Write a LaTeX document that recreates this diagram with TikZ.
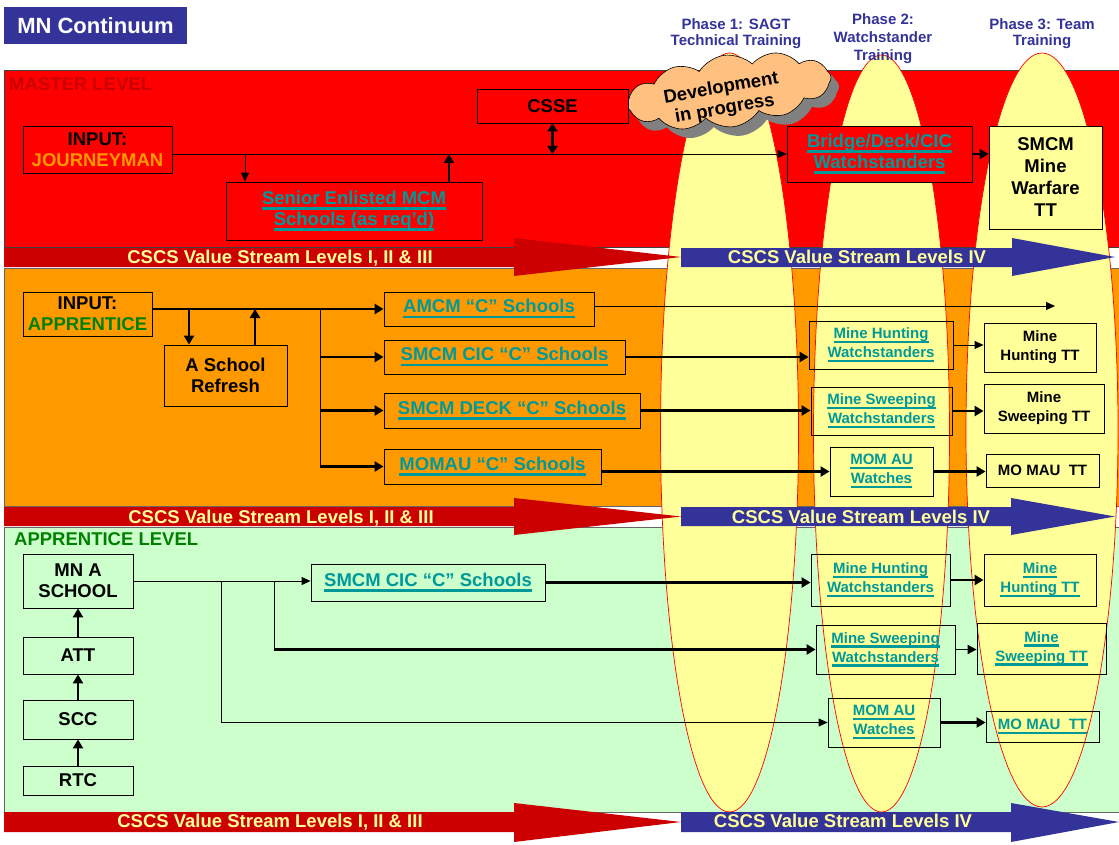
\documentclass[tikz,border=0pt]{standalone}
\usepackage{fontspec}
\setmainfont{Liberation Sans}
\usetikzlibrary{arrows.meta,shapes.symbols}
\definecolor{navy}{HTML}{333399}
\definecolor{tealc}{HTML}{009999}
\definecolor{regred}{HTML}{FF0000}
\definecolor{regorange}{HTML}{FF9900}
\definecolor{reggreen}{HTML}{CCFFCC}
\definecolor{yel}{HTML}{FFFF99}
\definecolor{dred}{HTML}{CC0000}
\definecolor{lvlgreen}{HTML}{008000}
\definecolor{cloudc}{HTML}{FFC080}
\definecolor{shadowc}{HTML}{808080}
\newbox\ulbox
\newcommand\ulx[1]{\setbox\ulbox\hbox{#1}\rlap{\raisebox{-0.3em}{\rule{\wd\ulbox}{0.16em}}}\box\ulbox}
\newcommand\bx[6]{\node[#6, minimum width={(#4-#2)*1pt}, minimum height={(#5-#3)*1pt}] (#1) at ({(#2+#4)/2},{(#3+#5)/2})}
\tikzset{
  bigf/.style={font=\bfseries\fontsize{18.5}{21}\selectfont},
  smallf/.style={font=\bfseries\fontsize{15}{19}\selectfont},
  bxs/.style={draw=black, line width=0.8pt, inner sep=0pt, align=center, bigf},
  sbxs/.style={bxs, smallf},
  tealtext/.style={text=tealc},
  thinarrow/.style={line width=0.9pt, -{Triangle[length=9pt,width=8pt]}},
  thinline/.style={line width=0.9pt},
  thickarrow/.style={line width=2.8pt, -{Triangle[length=9pt,width=10pt]}},
  bandtext/.style={bigf, text=yel, anchor=base, inner sep=0pt},
  phase/.style={text=navy, align=center, inner sep=0pt, font=\bfseries\fontsize{15}{16}\selectfont},
  cloudsh/.style={cloud, cloud puffs=12, cloud puff arc=100, aspect=2.8, minimum width=206pt, minimum height=72pt, inner sep=0pt, rotate=8},
}
\begin{document}
\begin{tikzpicture}[x=1pt,y=-1pt]
\useasboundingbox (0,0) rectangle (1119,845);
\clip (0,0) rectangle (1119,845);
% regions
\filldraw[fill=regred, draw=black!75, line width=0.8pt] (4,70) rectangle (1125,247);
\filldraw[fill=regorange, draw=black!60, line width=0.8pt] (4,268) rectangle (1125,506);
\filldraw[fill=reggreen, draw=black!60, line width=0.8pt] (4,527) rectangle (1125,812);
% ellipses
\filldraw[fill=yel, draw=red, line width=0.7pt] (729.5,432.5) ellipse [x radius=69pt, y radius=379.5pt];
\filldraw[fill=yel, draw=red, line width=0.7pt] (881.5,433.5) ellipse [x radius=68pt, y radius=378.5pt];
\filldraw[fill=yel, draw=red, line width=0.7pt] (1042,430) ellipse [x radius=76pt, y radius=377pt];
% bands
\fill[dred] (4,248) -- (514,248) -- (514,238) -- (681,257) -- (514,276) -- (514,267) -- (4,267) -- cycle;
\fill[navy] (681,248) -- (1012,248) -- (1012,238) -- (1115,257) -- (1012,276) -- (1012,267) -- (681,267) -- cycle;
\fill[dred] (4,507) -- (514,507) -- (514,498) -- (681,516.5) -- (514,535) -- (514,526) -- (4,526) -- cycle;
\fill[navy] (681,507) -- (1011,507) -- (1011,498) -- (1115,516.5) -- (1011,535) -- (1011,526) -- (681,526) -- cycle;
\fill[dred] (4,812) -- (514,812) -- (514,803) -- (681,822) -- (514,842) -- (514,832) -- (4,832) -- cycle;
\fill[navy] (681,812) -- (1011,812) -- (1011,803) -- (1119,822) -- (1011,842) -- (1011,832) -- (681,832) -- cycle;
\node[bandtext] (b1r) at (280,263) {CSCS Value Stream Levels I, II \& III};
\node[bandtext] (b1b) at (857,263) {CSCS Value Stream Levels IV};
\node[bandtext] (b2r) at (281,523) {CSCS Value Stream Levels I, II \& III};
\node[bandtext] (b2b) at (861,523) {CSCS Value Stream Levels IV};
\node[bandtext] (b3r) at (270,827) {CSCS Value Stream Levels I, II \& III};
\node[bandtext] (b3b) at (843,827) {CSCS Value Stream Levels IV};
% title and phases
\bx{title}{4}{7}{187}{44}{fill=navy, text=white, inner sep=0pt, font=\bfseries\fontsize{22}{24}\selectfont}{MN Continuum};
\node[phase] (ph1) at (736,33.5) {Phase 1: SAGT\\Technical Training};
\node[phase, font=\bfseries\fontsize{15}{18}\selectfont] (ph2) at (883,38.5) {Phase 2:\\Watchstander\\Training};
\node[phase] (ph3) at (1042,33.5) {Phase 3: Team\\Training};
% cloud
\node[cloudsh, fill=shadowc] (cloudshadow) at (737,100) {};
\node[cloudsh, fill=cloudc, draw=black, line width=0.6pt] (cloudmain) at (729,91) {};
\node[bigf, rotate=10, align=center, inner sep=0pt] (cloudtxt) at (723,99) {Development\\in progress};
% master level
\node[bigf, text=dred, anchor=base west, inner sep=0pt] (mlevel) at (9,91) {MASTER LEVEL};
\bx{csse}{477}{89}{628}{123}{bxs, fill=regred}{CSSE};
\bx{journey}{23}{126}{172}{173}{bxs}{INPUT:\\\textcolor{regorange}{JOURNEYMAN}};
\bx{senior}{226}{182}{482}{240}{bxs, fill=regred, tealtext}{\ulx{Senior Enlisted MCM}\\\ulx{Schools (as req’d)}};
\bx{bridge}{787}{126}{972}{182}{bxs, fill=regred, tealtext}{\ulx{Bridge/Deck/CIC}\\\ulx{Watchstanders}};
\bx{smcm}{989}{126}{1102}{229}{bxs, fill=yel, font=\bfseries\fontsize{18.5}{22}\selectfont}{SMCM\\Mine\\Warfare\\TT};
% journeyman level
\bx{appr}{23}{292}{152}{336}{bxs}{INPUT:\\\textcolor{lvlgreen}{APPRENTICE}};
\bx{aschool}{164}{345}{287}{406}{bxs}{A School\\Refresh};
\bx{amcm}{384}{292}{594}{326}{bxs, tealtext}{\ulx{AMCM “C” Schools}};
\bx{cic1}{384}{340}{625}{374}{bxs, tealtext}{\ulx{SMCM CIC “C” Schools}};
\bx{deck}{384}{393}{640}{428}{bxs, tealtext}{\ulx{SMCM DECK “C” Schools}};
\bx{momau1}{384}{449}{601}{484}{bxs, tealtext}{\ulx{MOMAU “C” Schools}};
\bx{mhw1}{809}{321}{953}{369}{sbxs, tealtext}{\ulx{Mine Hunting}\\\ulx{Watchstanders}};
\bx{mhtt1}{984}{323}{1096}{372}{sbxs}{Mine\\Hunting TT};
\bx{msw1}{811}{387}{952}{435}{sbxs, tealtext}{\ulx{Mine Sweeping}\\\ulx{Watchstanders}};
\bx{mstt1}{984}{384}{1104}{433}{sbxs}{Mine\\Sweeping TT};
\bx{mow1}{830}{447}{933}{496}{sbxs, tealtext}{\ulx{MOM AU}\\\ulx{Watches}};
\bx{mott1}{986}{454}{1099}{487}{sbxs}{MO MAU\ \ TT};
% apprentice level
\node[bigf, text=lvlgreen, anchor=base west, inner sep=0pt] (alevel) at (14,545) {APPRENTICE LEVEL};
\bx{mna}{23}{554}{133}{608}{bxs}{MN A\\SCHOOL};
\bx{att}{23}{637}{133}{674}{bxs}{ATT};
\bx{scc}{23}{700}{133}{739}{bxs}{SCC};
\bx{rtc}{23}{766}{133}{795}{bxs}{RTC};
\bx{cic2}{311}{564}{545}{601}{bxs, tealtext}{\ulx{SMCM CIC “C” Schools}};
\bx{mhw2}{811}{554}{950}{606}{sbxs, tealtext}{\ulx{Mine Hunting}\\\ulx{Watchstanders}};
\bx{mhtt2}{984}{554}{1096}{606}{sbxs, tealtext}{\ulx{Mine}\\\ulx{Hunting TT}};
\bx{msw2}{816}{625}{955}{674}{sbxs, tealtext}{\ulx{Mine Sweeping}\\\ulx{Watchstanders}};
\bx{mstt2}{977}{623}{1106}{674}{sbxs, tealtext}{\ulx{Mine}\\\ulx{Sweeping TT}};
\bx{mow2}{828}{698}{940}{747}{sbxs, tealtext}{\ulx{MOM AU}\\\ulx{Watches}};
\bx{mott2}{986}{711}{1099}{742}{sbxs, tealtext}{\ulx{MO MAU\ \ TT}};
% connectors: master
\coordinate (jA) at (245,154);
\coordinate (jB) at (449,154);
\draw[thinarrow] (journey.east |- bridge.west) -- (bridge.west);
\draw[thinarrow] (jA) -- (jA |- senior.north);
\draw[thickarrow] (jB |- senior.north) -- (jB);
\draw[line width=2.8pt, {Triangle[length=8pt,width=10pt]}-{Triangle[length=8pt,width=10pt]}] (csse.south) -- (csse.south |- bridge.west);
\draw[thickarrow] (bridge.east) -- (bridge.east -| smcm.west);
% connectors: journeyman
\coordinate (o1) at (189,309);
\coordinate (o2) at (255,309);
\coordinate (o3) at (320,309);
\coordinate (amcmend) at (1055,306);
\draw[thickarrow] (appr.east |- amcm.west) -- (amcm.west);
\draw[thickarrow] (o1) -- (o1 |- aschool.north);
\draw[thickarrow] (o2 |- aschool.north) -- (o2);
\draw[thinline] (o3) -- (o3 |- momau1.west);
\draw[thickarrow] (o3 |- cic1.west) -- (cic1.west);
\draw[thickarrow] (o3 |- deck.west) -- (deck.west);
\draw[thickarrow] (o3 |- momau1.west) -- (momau1.west);
\draw[thinarrow] (amcmend -| amcm.east) -- (amcmend);
\draw[thickarrow] (cic1.east) -- (cic1.east -| mhw1.west);
\draw[thinarrow] (mhw1.east) -- (mhw1.east -| mhtt1.west);
\draw[thickarrow] (deck.east) -- (deck.east -| msw1.west);
\draw[thickarrow] (msw1.east) -- (msw1.east -| mstt1.west);
\draw[thickarrow] (mow1.west -| momau1.east) -- (mow1.west);
\draw[thickarrow] (mow1.east) -- (mow1.east -| mott1.west);
% connectors: apprentice
\coordinate (g1) at (221,581);
\coordinate (g2) at (274,581);
\draw[thickarrow] (rtc.north) -- (scc.south);
\draw[thickarrow] (scc.north) -- (att.south);
\draw[thickarrow] (att.north) -- (mna.south);
\draw[thinarrow] (mna.east) -- (mna.east -| cic2.west);
\draw[thinarrow] (g1) |- (mow2.west);
\draw[thinline] (g2) -- (g2 |- msw2.west);
\draw[thickarrow] (g2 |- msw2.west) -- (msw2.west);
\draw[thickarrow] (cic2.east) -- (cic2.east -| mhw2.west);
\draw[thickarrow] (mhw2.east) -- (mhw2.east -| mhtt2.west);
\draw[line width=1.8pt, -{Triangle[length=9pt,width=9pt]}] (msw2.east) -- (msw2.east -| mstt2.west);
\draw[thickarrow] (mow2.east) -- (mow2.east -| mott2.west);
\end{tikzpicture}
\end{document}
